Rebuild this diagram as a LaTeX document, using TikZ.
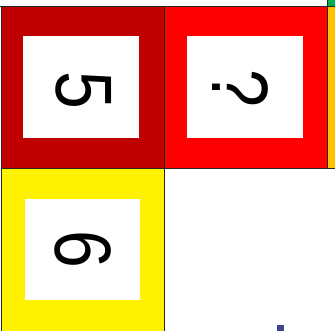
\documentclass[tikz,border=0pt]{standalone}
\usepackage{fontspec}
\setmainfont{Liberation Sans}
\begin{document}
\begin{tikzpicture}[x=1pt, y=-1pt, line join=miter,
    cell/.style={draw=black!85, line width=1pt},
    hole/.style={fill=white, draw=none},
    digit/.style={rotate=-90, font=\fontsize{80}{80}\selectfont, inner sep=0pt}]
  \definecolor{darkred}{RGB}{192,0,0}
  \definecolor{gridorange}{RGB}{255,192,0}
  \definecolor{gridgreen}{RGB}{0,176,80}
  \definecolor{markblue}{RGB}{64,64,150}
  \useasboundingbox (0,0) rectangle (335,331);
  \fill[white] (0,0) rectangle (335,331);
  % cells
  \draw[cell, fill=gridgreen] (327,-5) rectangle (345,7);
  \draw[cell, fill=darkred] (1,7) rectangle (164,169);
  \draw[cell, fill=red] (164,7) rectangle (327,169);
  \draw[cell, fill=gridorange] (327,7) rectangle (345,169);
  \draw[cell, fill=yellow] (1,169) rectangle (164,345);
  \draw[black!85, line width=1pt] (0,7) -- (327,7);
  % white holes
  \fill[hole] (23,36) rectangle (139,138);
  \fill[hole] (187,36) rectangle (303,138);
  \fill[hole] (25,199) rectangle (140,300);
  % digits
  \node[digit] (five) at (84,90) {\scalebox{0.85}[1]{5}};
  \node[digit] (quest) at (240,88) {\scalebox{0.85}[1]{?}};
  \node[digit] (six) at (83,249) {\scalebox{0.85}[1]{6}};
  \fill[markblue] (277,325) rectangle (284,331);
\end{tikzpicture}
\end{document}
